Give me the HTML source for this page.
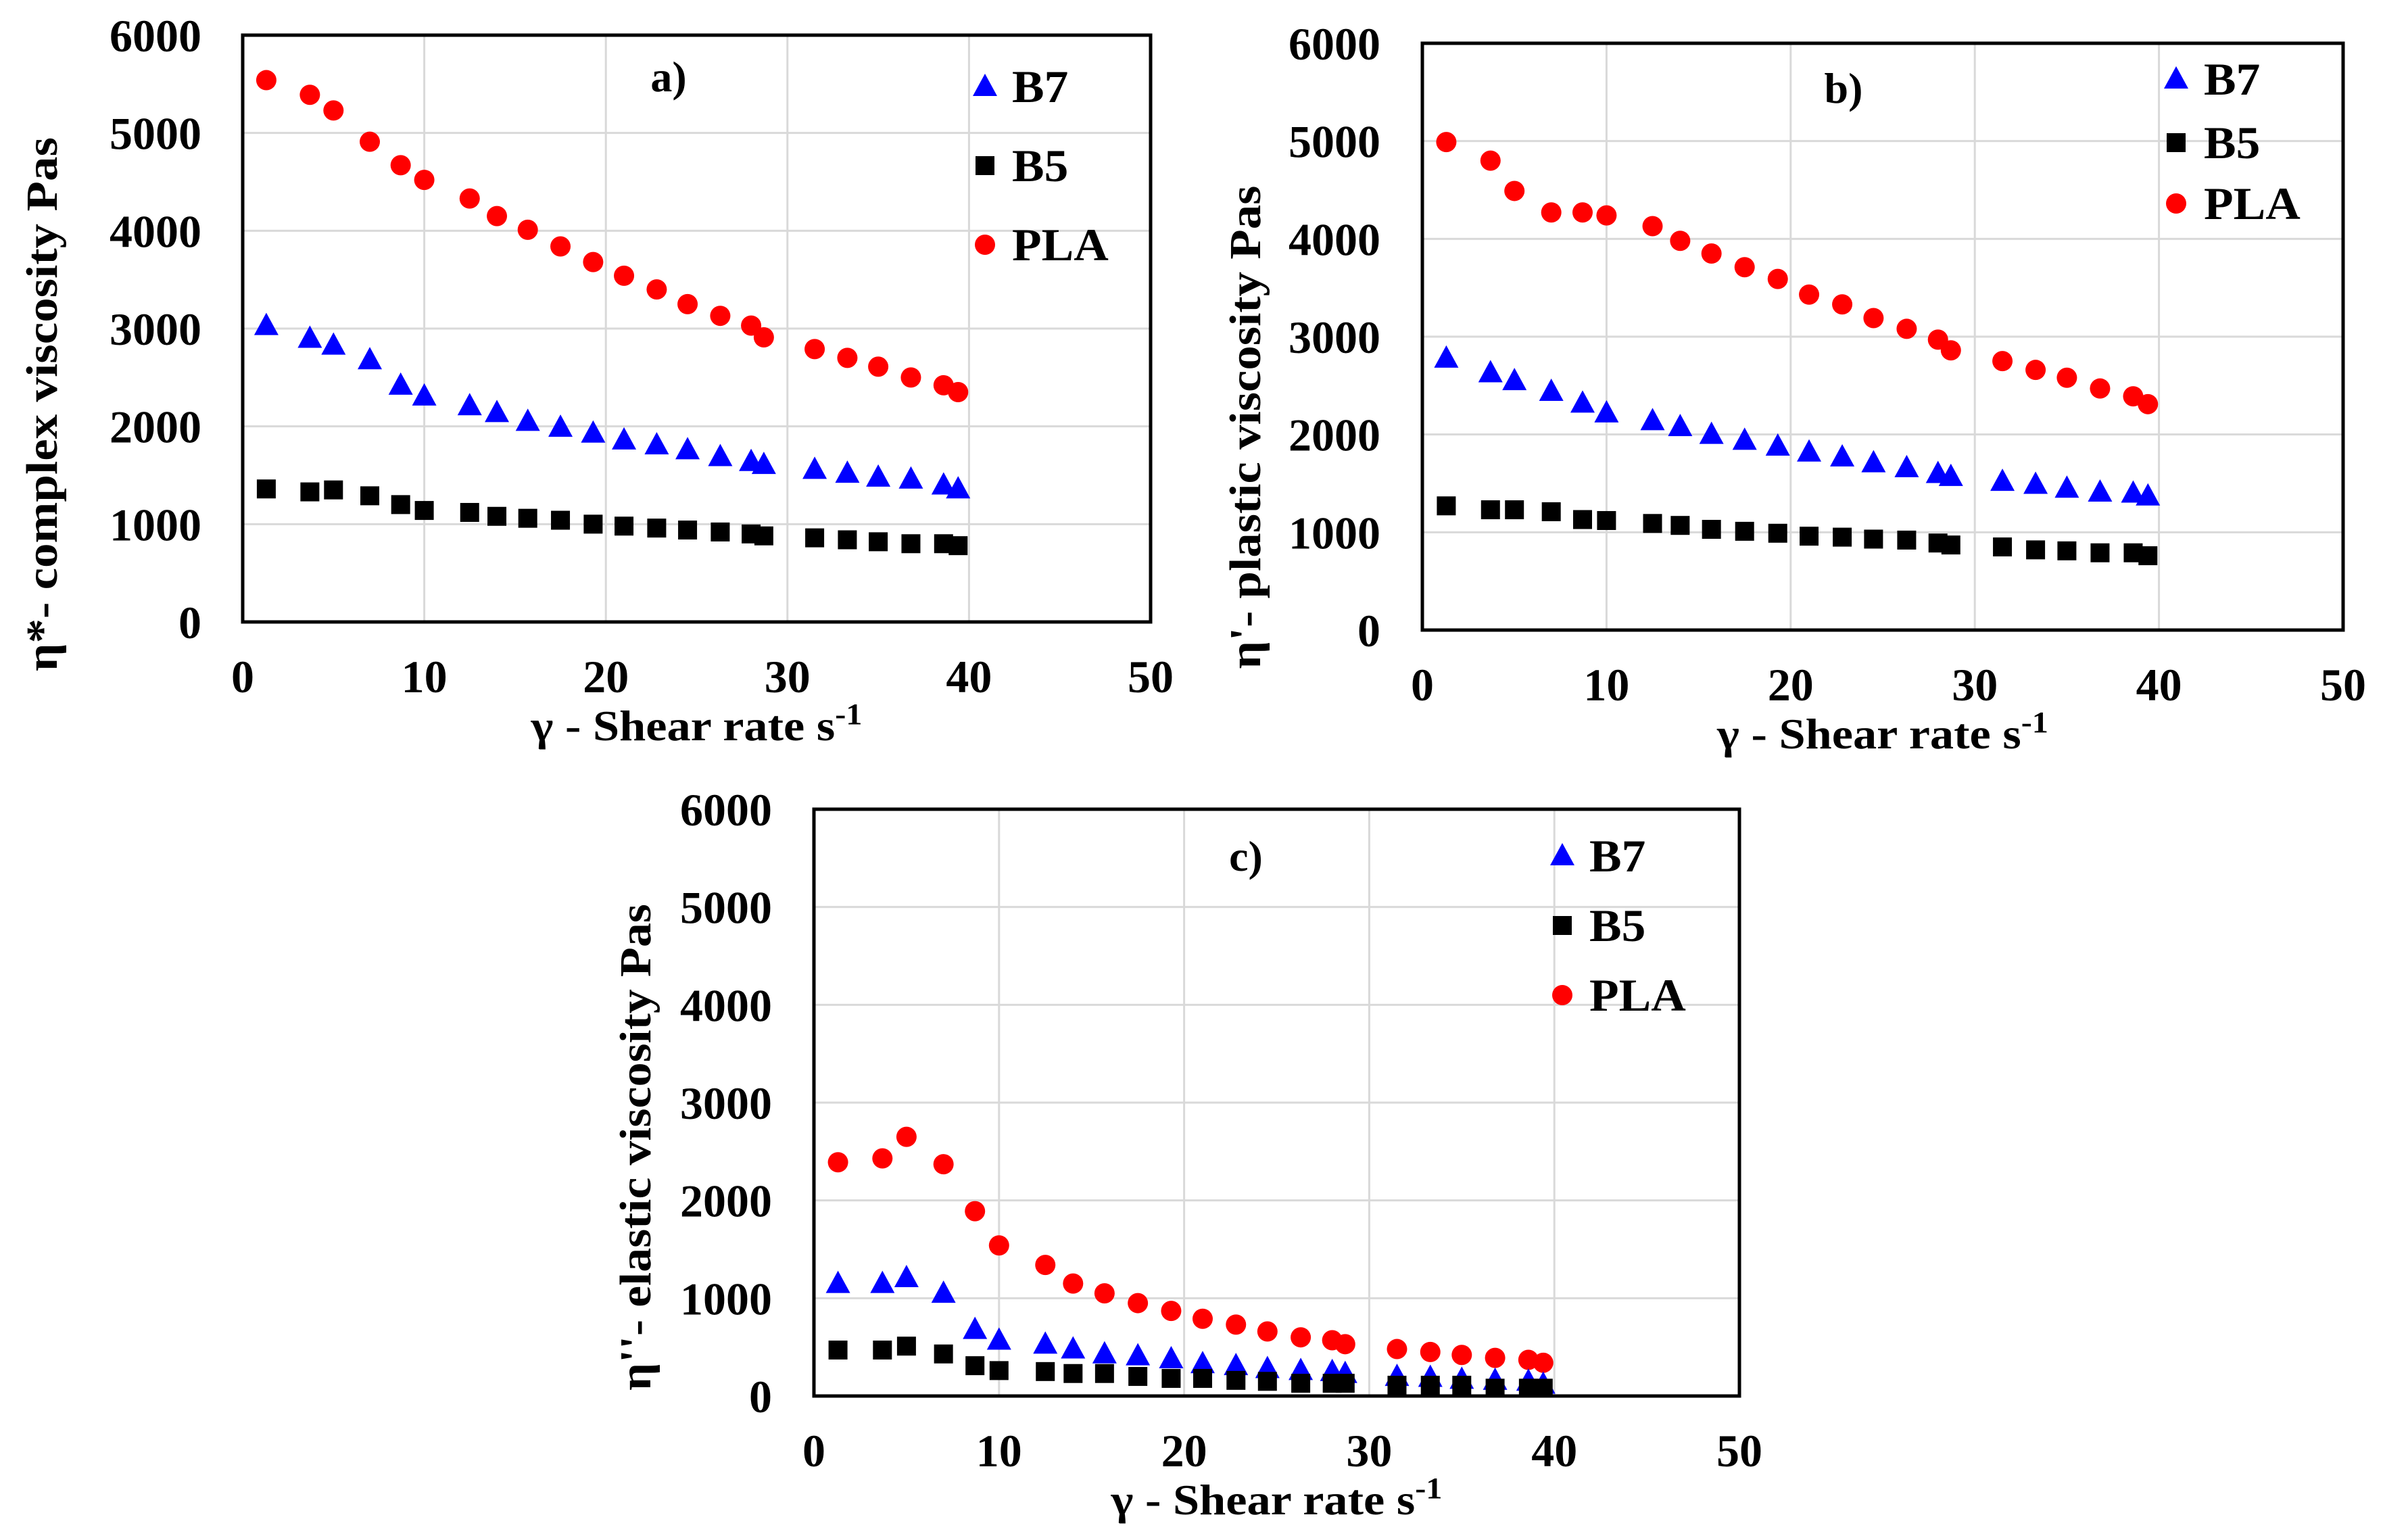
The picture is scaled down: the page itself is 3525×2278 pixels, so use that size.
<!DOCTYPE html>
<html><head><meta charset="utf-8"><style>
html,body{margin:0;padding:0;background:#fff;}
svg{display:block;}
text{font-family:"Liberation Serif",serif;font-weight:bold;fill:#000;}
</style></head>
<body>
<svg id="fig" width="3525" height="2278" viewBox="0 0 3525 2278" xmlns="http://www.w3.org/2000/svg"></svg>
<script>
const shearRate = [1.3,3.7,5,7,8.7,10,12.5,14,15.7,17.5,19.3,21,22.8,24.5,26.3,28,28.7,31.5,33.3,35,36.8,38.6,39.4];
const aPLA = [5540,5390,5230,4910,4670,4520,4330,4150,4010,3840,3680,3540,3400,3250,3130,3030,2910,2790,2700,2610,2500,2420,2350];
const aB7 = [3030,2900,2830,2680,2420,2310,2210,2140,2050,1990,1930,1860,1810,1760,1690,1640,1610,1560,1520,1480,1460,1400,1360];
const aB5 = [1360,1330,1350,1290,1200,1140,1120,1080,1060,1040,1000,980,960,940,920,900,880,860,840,820,800,800,780];
const bPLA = [4990,4800,4490,4270,4270,4240,4130,3980,3850,3710,3590,3430,3330,3190,3080,2970,2860,2750,2660,2580,2470,2390,2310];
const bB7 = [2780,2630,2550,2440,2320,2220,2140,2080,2000,1940,1880,1820,1770,1710,1660,1600,1570,1520,1490,1450,1410,1400,1370];
const bB5 = [1270,1230,1230,1210,1130,1120,1090,1070,1030,1010,990,960,950,930,920,890,870,850,820,810,790,790,760];
const cPLA = [2390,2430,2650,2370,1890,1540,1340,1150,1050,950,870,790,730,660,600,570,530,480,450,420,390,370,340];
const cB7 = [1150,1150,1210,1050,680,570,530,480,430,410,380,330,310,280,260,250,230,200,190,170,160,150,120];
const cB5 = [470,470,510,430,310,260,250,230,230,200,180,180,160,150,130,130,130,110,110,110,80,80,80];
const xTicks = [0,10,20,30,40,50];
const yTicks = [0,1000,2000,3000,4000,5000,6000];
const seriesNames = ["B7","B5","PLA"];

const NS="http://www.w3.org/2000/svg";
const svg=document.getElementById('fig');
function el(tag,attrs,parent){const e=document.createElementNS(NS,tag);for(const k in attrs)e.setAttribute(k,attrs[k]);(parent||svg).appendChild(e);return e;}

function tri(g,cx,cy,name){
  const p=el('polygon',{points:`${cx},${cy-19} ${cx-18},${cy+14} ${cx+18},${cy+14}`,fill:'#0000ff'},g);
  
  
}
function sq(g,cx,cy,name){
  const r=el('rect',{x:cx-14,y:cy-14,width:28,height:28,fill:'#000'},g);
  
  
}
function circ(g,cx,cy,name){
  const c=el('circle',{cx:cx,cy:cy,r:15,fill:'#ff0000'},g);
  
  
}
function ctext(g,x,y,str,size,anchor,sx){
  const t=el('text',{transform:`translate(${x},${y}) scale(${sx||1},1)`,'font-size':size,'text-anchor':anchor||'middle'},g);
  t.textContent=str;
  return t;
}

function panel(id,L,R,T,B,pla,b7,b5,ytitle,ytLen,ytCenter,lab,legend,ytitleX,xtitleY,ycX){
  const g=el('g',{});
  
  
  const xs=v=>L+(v-0)/50*(R-L);
  const ys=v=>B-(v/6000)*(B-T);
  xTicks.forEach(t=>{ if(t>0&&t<50){const l=el('line',{x1:xs(t),x2:xs(t),y1:T,y2:B,stroke:'#d9d9d9','stroke-width':3},g);
    
    }});
  yTicks.forEach(t=>{ if(t>0&&t<6000){const l=el('line',{x1:L,x2:R,y1:ys(t),y2:ys(t),stroke:'#d9d9d9','stroke-width':3},g);
    
    }});
  xTicks.forEach(t=>{const tx=ctext(g,xs(t),B+104,String(t),68);
    
    });
  yTicks.forEach(t=>{const tx=ctext(g,ycX,ys(t)+24,String(t),68,'end');
    
    });
  const sg=el('g',{},g);
  
  
  shearRate.forEach((x,i)=>circ(sg,xs(x),ys(pla[i]),'pla-point'));
  shearRate.forEach((x,i)=>tri(sg,xs(x),ys(b7[i]),'b7-point'));
  shearRate.forEach((x,i)=>sq(sg,xs(x),ys(b5[i]),'b5-point'));
  const f=el('rect',{x:L,y:T,width:R-L,height:B-T,fill:'none',stroke:'#000','stroke-width':5},g);
  
  
  const pl=ctext(g,lab[0],lab[1],id+')',64,'middle',1);
  
  
  const lg=el('g',{},g);
  
  
  const [mx,tx,y1,y2,y3]=legend;
  tri(lg,mx,y1,'legend-marker-b7');sq(lg,mx,y2,'legend-marker-b5');circ(lg,mx,y3,'legend-marker-pla');
  [y1,y2,y3].forEach((yy,i)=>{const t=ctext(lg,tx,yy+23,seriesNames[i],68,'start',1.05);
    
    });
  const xt=el('text',{x:(L+R)/2,y:xtitleY,'font-size':64,'text-anchor':'middle',textLength:490,lengthAdjust:'spacingAndGlyphs'},g);
  xt.innerHTML='γ - Shear rate s<tspan dy="-24" font-size="44">-1</tspan>';
  
  
  const yt=el('text',{transform:`translate(${ytitleX},${ytCenter}) rotate(-90)`,'font-size':66,'text-anchor':'middle',textLength:ytLen,lengthAdjust:'spacingAndGlyphs'},g);
  yt.textContent=ytitle;
  
  
}
panel('a',359,1702,52,920,aPLA,aB7,aB5,'η*-  complex viscosity Pas',790,598,[989,135],[1457,1497,128,245,362],84,1095,298);
panel('b',2104,3466,64,932,bPLA,bB7,bB5,'η\'-  plastic viscosity Pas',715,632,[2727,152],[3219,3260,117,211,301],1864,1107,2042);
panel('c',1204,2573,1197,2065,cPLA,cB7,cB5,'η\'\'-  elastic viscosity Pas',720,1697,[1843,1288],[2311,2351,1266,1369,1472],962,2240,1142);
</script>
</body></html>
